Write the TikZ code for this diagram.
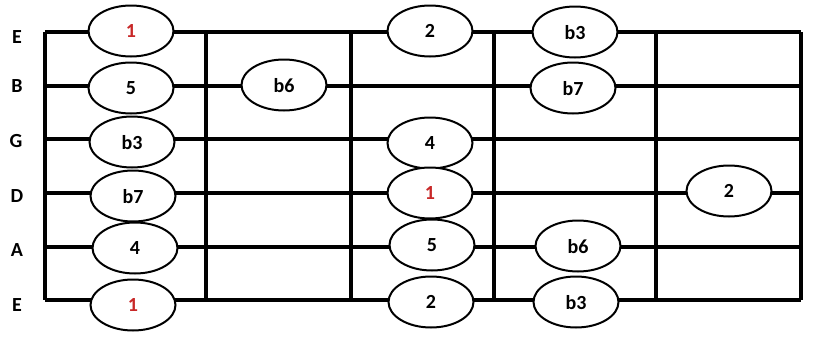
\documentclass[tikz,border=0pt]{standalone}
\usepackage{fontspec}
\setmainfont{Carlito}
\usetikzlibrary{shapes.geometric}
\definecolor{rootred}{RGB}{200,40,40}
\begin{document}
\begin{tikzpicture}[x=1pt,y=-1pt,
  note/.style={ellipse,draw=black,line width=2pt,fill=white,minimum width=85pt,minimum height=51pt,inner sep=0pt,font=\fontsize{20}{20}\selectfont\bfseries,text depth=-5pt},
  root/.style={note,text=rootred},
  strlabel/.style={font=\fontsize{20}{20}\selectfont\bfseries,inner sep=0pt},
  grid/.style={line width=3.2pt}]
\useasboundingbox (0,0) rectangle (819,343);
% strings
\foreach \n/\y in {1/32,2/86,3/139,4/193,5/247,6/300}{
  \coordinate (s\n l) at (45,\y);
  \coordinate (s\n r) at (801,\y);
  \draw[grid] (s\n l) -- (s\n r);
}
% frets
\foreach \n/\x in {0/45,1/206,2/351,3/494,4/656,5/801}{
  \coordinate (f\n t) at (\x,32);
  \coordinate (f\n b) at (\x,300);
  \draw[grid] (f\n t) -- (f\n b);
}
% string labels
\node[strlabel] (lE1) at (17,37) {E};
\node[strlabel] (lB) at (17,86) {B};
\node[strlabel] (lG) at (16,141) {G};
\node[strlabel] (lD) at (17,196) {D};
\node[strlabel] (lA) at (17,250) {A};
\node[strlabel] (lE6) at (17,305) {E};
% notes
\node[root] (n1) at (131,31) {1};
\node[note] (n2) at (430,31) {2};
\node[note] (n3) at (575,32) {b3};
\node[note] (n4) at (131,88) {5};
\node[note] (n5) at (284,85) {b6};
\node[note] (n6) at (573,88) {b7};
\node[note] (n7) at (132,142) {b3};
\node[note] (n8) at (430,143) {4};
\node[note] (n9) at (133,196) {b7};
\node[root] (n10) at (430,193) {1};
\node[note] (n11) at (729,191) {2};
\node[note] (n12) at (135,248) {4};
\node[note] (n13) at (432,245) {5};
\node[note] (n14) at (578,246) {b6};
\node[root] (n15) at (133,305) {1};
\node[note] (n16) at (431,302) {2};
\node[note] (n17) at (576,302) {b3};
\end{tikzpicture}
\end{document}
